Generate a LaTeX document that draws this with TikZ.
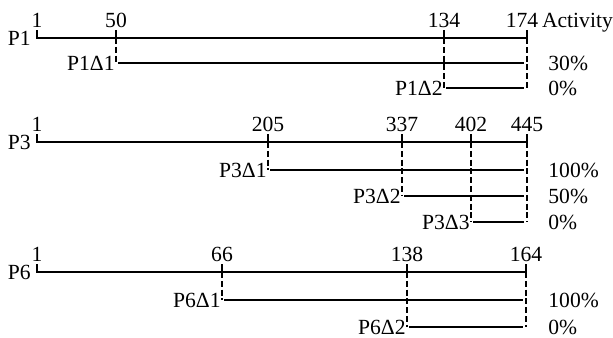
\documentclass[tikz,border=0pt]{standalone}
\usepackage{fontspec}
\setmainfont{Liberation Serif}
\usetikzlibrary{calc}
\tikzset{
  level/.style = { line width=1.4pt, black }, % sequence lines
  connect_vert/.style = { dash pattern=on 3pt off 1.4pt, line width=0.6pt, black },
  txt/.style = { font=\fontsize{10.8}{13}\selectfont },
  num/.style = { txt, above, inner sep=0.5pt },
  seqname/.style = { txt, left, inner sep=3pt },
  dname/.style = { txt, left, inner sep=1.5pt },
  pct/.style = { txt, right, inner sep=1pt },
}

\begin{document}
\begin{tikzpicture}[x=0.5pt,y=-0.5pt]
    \useasboundingbox (0,0) rectangle (613,337);

    % P1
    \coordinate (P1a) at (37,38);
    \coordinate (P1b) at (116,38);
    \coordinate (P1c) at (444,38);
    \coordinate (P1d) at (527,38);
    \coordinate (P1s1) at (118,63);
    \coordinate (P1e1) at (524,63);
    \coordinate (P1s2) at (446,88);
    \coordinate (P1e2) at (524,88);

    \node[seqname] (P1) at (P1a) {P1};
    \draw[level] ($(P1a)+(0,-8)$) node[num] (P1n1) {1} -- (P1a) -- (P1d) -- ++(0,-8) node[num, xshift=-2.5pt] (P1n4) {174};
    \draw[level] (P1b) -- ++(0,-8) node[num] (P1n2) {50};
    \draw[level] (P1c) -- ++(0,-8) node[num] (P1n3) {134};
    \node[txt, anchor=base west, inner sep=0.5pt] (act) at (P1n4.base east) {Activity};

    \draw[connect_vert] (P1b) -- (P1b |- P1s1);
    \draw[connect_vert] (P1c) -- (P1c |- P1s2);
    \draw[connect_vert] (P1d) -- (P1d |- P1s2);

    \draw[level] (P1s1) -- (P1e1);
    \draw[level] (P1s2) -- (P1e2);
    \node[dname] (P1D1) at (P1s1) {P1Δ1};
    \node[dname] (P1D2) at (P1s2) {P1Δ2};
    \node[pct] (P1v1) at (546,63) {30\%};
    \node[pct] (P1v2) at (546,88) {0\%};

    % P3
    \coordinate (P3a) at (37,142);
    \coordinate (P3b) at (268,142);
    \coordinate (P3c) at (402,142);
    \coordinate (P3d) at (471,142);
    \coordinate (P3e) at (527,142);
    \coordinate (P3s1) at (270,170);
    \coordinate (P3e1) at (524,170);
    \coordinate (P3s2) at (404,196);
    \coordinate (P3e2) at (524,196);
    \coordinate (P3s3) at (473,222);
    \coordinate (P3e3) at (524,222);

    \node[seqname] (P3) at (P3a) {P3};
    \draw[level] ($(P3a)+(0,-8)$) node[num] (P3n1) {1} -- (P3a) -- (P3e) -- ++(0,-8) node[num] (P3n5) {445};
    \draw[level] (P3b) -- ++(0,-8) node[num] (P3n2) {205};
    \draw[level] (P3c) -- ++(0,-8) node[num] (P3n3) {337};
    \draw[level] (P3d) -- ++(0,-8) node[num] (P3n4) {402};

    \draw[connect_vert] (P3b) -- (P3b |- P3s1);
    \draw[connect_vert] (P3c) -- (P3c |- P3s2);
    \draw[connect_vert] (P3d) -- (P3d |- P3s3);
    \draw[connect_vert] (P3e) -- (P3e |- P3s3);

    \draw[level] (P3s1) -- (P3e1);
    \draw[level] (P3s2) -- (P3e2);
    \draw[level] (P3s3) -- (P3e3);
    \node[dname] (P3D1) at (P3s1) {P3Δ1};
    \node[dname] (P3D2) at (P3s2) {P3Δ2};
    \node[dname] (P3D3) at (P3s3) {P3Δ3};
    \node[pct] (P3v1) at (546,170) {100\%};
    \node[pct] (P3v2) at (546,196) {50\%};
    \node[pct] (P3v3) at (546,222) {0\%};

    % P6
    \coordinate (P6a) at (37,272);
    \coordinate (P6b) at (222,272);
    \coordinate (P6c) at (407,272);
    \coordinate (P6d) at (526,272);
    \coordinate (P6s1) at (224,300);
    \coordinate (P6e1) at (523,300);
    \coordinate (P6s2) at (409,327);
    \coordinate (P6e2) at (523,327);

    \node[seqname] (P6) at (P6a) {P6};
    \draw[level] ($(P6a)+(0,-8)$) node[num] (P6n1) {1} -- (P6a) -- (P6d) -- ++(0,-8) node[num] (P6n4) {164};
    \draw[level] (P6b) -- ++(0,-8) node[num] (P6n2) {66};
    \draw[level] (P6c) -- ++(0,-8) node[num] (P6n3) {138};

    \draw[connect_vert] (P6b) -- (P6b |- P6s1);
    \draw[connect_vert] (P6c) -- (P6c |- P6s2);
    \draw[connect_vert] (P6d) -- (P6d |- P6s2);

    \draw[level] (P6s1) -- (P6e1);
    \draw[level] (P6s2) -- (P6e2);
    \node[dname] (P6D1) at (P6s1) {P6Δ1};
    \node[dname] (P6D2) at (P6s2) {P6Δ2};
    \node[pct] (P6v1) at (546,300) {100\%};
    \node[pct] (P6v2) at (546,327) {0\%};

\end{tikzpicture}
\end{document}
